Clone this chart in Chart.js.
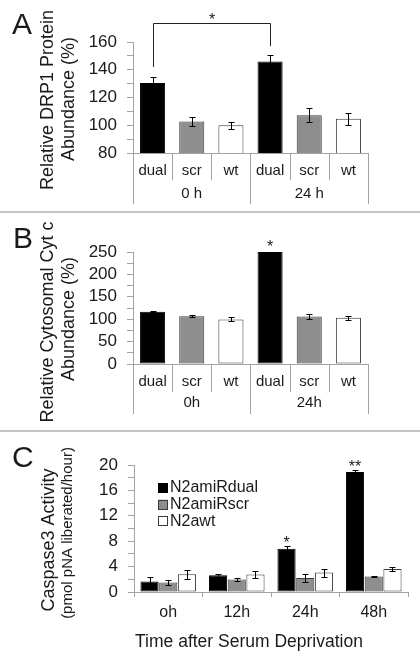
<!DOCTYPE html>
<html><head><meta charset="utf-8">
<script src="https://cdn.jsdelivr.net/npm/chart.js@4"></script>
<style>
html,body{margin:0;padding:0;background:#fff;}
#wrap{position:relative;width:420px;height:661px;overflow:hidden;background:#fff;}
canvas{position:absolute;left:0;top:0;}
.sep{position:absolute;left:0;width:420px;height:2px;background:#c4c4c4;}
</style></head><body>
<div id="wrap">
<canvas id="cA" width="420" height="661"></canvas>
<canvas id="cB" width="420" height="661"></canvas>
<canvas id="cC" width="420" height="661"></canvas>
<div class="sep" style="top:211px"></div>
<div class="sep" style="top:430px"></div>
</div>
<script>
// ---------------- DATA ----------------
// Panel A: Relative DRP1 protein abundance (%)
const catsA = ['dual','scr','wt','dual','scr','wt'];
const groupsA = ['0 h','24 h'];
const valsA = [130.5, 102.7, 100.0, 146.0, 107.2, 104.6];
const errsA = [4.3, 3.5, 2.5, 4.3, 5.2, 4.2];
const yTicksA = [80, 100, 120, 140, 160];
const bracketA = {from: 0, to: 3, top: 174, leftEnd: 142, rightEnd: 157, mark: '*'};

// Panel B: Relative cytosomal Cyt c abundance (%)
const catsB = ['dual','scr','wt','dual','scr','wt'];
const groupsB = ['0h','24h'];
const valsB = [116.5, 106.8, 99.5, 250.0, 106.0, 103.5];
const errsB = [1.0, 3.0, 4.5, 0, 6.0, 4.5];
const yTicksB = [0, 50, 100, 150, 200, 250];
const marksB = ['', '', '', '*', '', ''];

// Panel C: Caspase3 activity (pmol pNA liberated/hour)
const catsC = ['oh','12h','24h','48h'];
const seriesC = ['N2amiRdual','N2amiRscr','N2awt'];
const dualC = [1.65, 2.65, 6.8, 18.9];
const dualErrC = [0.68, 0.25, 0.47, 0.3];
const scrC = [1.5, 1.95, 2.2, 2.43];
const scrErrC = [0.42, 0.26, 0.58, 0.1];
const wtC = [2.78, 2.75, 3.06, 3.63];
const wtErrC = [0.74, 0.58, 0.63, 0.37];
const yTicksC = [0, 4, 8, 12, 16, 20];
const marksC = ['', '', '*', '**'];

// ---------------- STYLE ----------------
const FONT = "'Liberation Sans', Arial, Helvetica, sans-serif";
Chart.defaults.font.family = FONT;
Chart.defaults.color = '#1a1a1a';
const TXT = '#1a1a1a';
const AXIS = '#a3a3a3';
const FILL = {dual: '#000000', scr: '#8e8e8e', wt: '#ffffff'};
const EDGE = {dual: '#000000', scr: '#3a3a3a', wt: '#3a3a3a'};
const W = 420, H = 661;
const Y_W = 60, X_H = 30;

function layoutFor(area) {
  return {padding: {left: area.left - Y_W, right: W - area.right, top: area.top, bottom: H - area.bottom - X_H}};
}
function yScale(tickList, minor) {
  return {
    min: tickList[0], max: tickList[tickList.length - 1],
    afterFit: s => { s.width = Y_W; },
    border: {display: true, color: AXIS, width: 1},
    grid: {display: true, drawOnChartArea: false, drawTicks: true, tickLength: 6, color: AXIS},
    ticks: {stepSize: minor, autoSkip: false, padding: 10, color: TXT, font: {size: 17},
      callback: v => tickList.includes(v) ? String(v) : ''}
  };
}
function errPlugin(errSets, cap) {
  return {id: 'errbars', afterDatasetsDraw(chart) {
    const ctx = chart.ctx, y = chart.scales.y;
    chart.data.datasets.forEach((ds, di) => {
      const meta = chart.getDatasetMeta(di);
      meta.data.forEach((bar, i) => {
        const v = ds.data[i], e = errSets[di][i];
        if (!e) return;
        const x = Math.round(bar.x) + 0.5;
        const yt = Math.round(y.getPixelForValue(v + e)) + 0.5;
        const yb = Math.round(y.getPixelForValue(v - e)) + 0.5;
        ctx.save();
        ctx.strokeStyle = '#000'; ctx.lineWidth = 1;
        ctx.beginPath();
        ctx.moveTo(x, yt); ctx.lineTo(x, yb);
        ctx.moveTo(x - cap, yt); ctx.lineTo(x + cap, yt);
        ctx.moveTo(x - cap, yb); ctx.lineTo(x + cap, yb);
        ctx.stroke();
        ctx.restore();
      });
    });
  }};
}
function multiLevelPlugin(cats, groups, inner, outer, labelDy) {
  return {id: 'multilevel', afterDraw(chart) {
    const ctx = chart.ctx, x = chart.scales.x, a = chart.chartArea;
    const n = cats.length, per = n / groups.length;
    const w = x.getPixelForValue(1) - x.getPixelForValue(0);
    const x0 = x.getPixelForValue(0) - w / 2;
    ctx.save();
    ctx.strokeStyle = AXIS; ctx.lineWidth = 1;
    ctx.beginPath();
    for (let i = 0; i <= n; i++) {
      const px = Math.round(x0 + i * w) + 0.5;
      const len = (i % per === 0) ? outer : inner;
      ctx.moveTo(px, a.bottom); ctx.lineTo(px, a.bottom + len);
    }
    ctx.stroke();
    ctx.fillStyle = TXT; ctx.font = '15px ' + FONT;
    ctx.textAlign = 'center'; ctx.textBaseline = 'middle';
    groups.forEach((g, gi) => {
      const cx = x0 + (gi * per + per / 2) * w;
      ctx.fillText(g, cx, a.bottom + labelDy);
    });
    ctx.restore();
  }};
}
function textPlugin(items) {
  return {id: 'texts', afterDraw(chart) {
    const ctx = chart.ctx;
    items.forEach(t => {
      ctx.save();
      ctx.fillStyle = TXT;
      ctx.font = t.size + 'px ' + FONT;
      ctx.translate(t.x, t.y);
      if (t.rot) ctx.rotate(-Math.PI / 2);
      ctx.textAlign = t.align || 'center';
      ctx.textBaseline = t.base || 'middle';
      ctx.fillText(t.text, 0, 0);
      ctx.restore();
    });
  }};
}
function marksPlugin(marks, errSets, dsIndex, gap) {
  return {id: 'marks', afterDraw(chart) {
    const ctx = chart.ctx, y = chart.scales.y;
    const meta = chart.getDatasetMeta(dsIndex);
    const ds = chart.data.datasets[dsIndex];
    ctx.save();
    ctx.fillStyle = TXT; ctx.font = '16px ' + FONT;
    ctx.textAlign = 'center'; ctx.textBaseline = 'alphabetic';
    marks.forEach((m, i) => {
      if (!m) return;
      const top = y.getPixelForValue(ds.data[i] + (errSets[dsIndex][i] || 0));
      ctx.fillText(m, meta.data[i].x, top - gap + 9);
    });
    ctx.restore();
  }};
}
function bracketPlugin(b) {
  return {id: 'bracket', afterDraw(chart) {
    const ctx = chart.ctx, y = chart.scales.y;
    const meta = chart.getDatasetMeta(0);
    const x1 = Math.round(meta.data[b.from].x) + 0.5, x2 = Math.round(meta.data[b.to].x) + 0.5;
    const yt = Math.round(y.getPixelForValue(b.top)) + 0.5;
    ctx.save();
    ctx.strokeStyle = '#222'; ctx.lineWidth = 1;
    ctx.beginPath();
    ctx.moveTo(x1, y.getPixelForValue(b.leftEnd)); ctx.lineTo(x1, yt);
    ctx.lineTo(x2, yt); ctx.lineTo(x2, y.getPixelForValue(b.rightEnd));
    ctx.stroke();
    ctx.fillStyle = TXT; ctx.font = '16px ' + FONT;
    ctx.textAlign = 'center'; ctx.textBaseline = 'alphabetic';
    ctx.fillText(b.mark, (x1 + x2) / 2, yt - 8 + 9);
    ctx.restore();
  }};
}
function legendPlugin(boxX, firstY, step, box) {
  return {id: 'legendC', afterDraw(chart) {
    const ctx = chart.ctx;
    ctx.save();
    ctx.font = '16px ' + FONT; ctx.textAlign = 'left'; ctx.textBaseline = 'middle';
    chart.data.datasets.forEach((ds, i) => {
      const cy = firstY + i * step;
      ctx.fillStyle = ds.backgroundColor;
      ctx.fillRect(boxX, cy - box / 2, box, box);
      ctx.strokeStyle = ds.borderColor; ctx.lineWidth = 1;
      ctx.strokeRect(Math.round(boxX) + 0.5, Math.round(cy - box / 2) + 0.5, box - 1, box - 1);
      ctx.fillStyle = TXT;
      ctx.fillText(ds.label, boxX + box + 2, cy);
    });
    ctx.restore();
  }};
}
function baseOptions(area, xScale, yS) {
  return {
    responsive: false, animation: false, devicePixelRatio: 1,
    layout: layoutFor(area),
    plugins: {legend: {display: false}, tooltip: {enabled: false}, title: {display: false}},
    scales: {x: xScale, y: yS}
  };
}
function twoLevelX(fontSize, pad) {
  return {
    afterFit: s => { s.height = X_H; },
    grid: {display: false, drawTicks: false, tickLength: 0},
    border: {display: true, color: AXIS, width: 1},
    ticks: {padding: pad, color: TXT, font: {size: fontSize}, autoSkip: false, maxRotation: 0}
  };
}

// ---------------- PANEL A ----------------
const areaA = {left: 133, right: 368, top: 42, bottom: 153};
new Chart(document.getElementById('cA'), {
  type: 'bar',
  data: {labels: catsA, datasets: [{data: valsA,
    backgroundColor: catsA.map(c => FILL[c]), borderColor: catsA.map(c => EDGE[c]),
    borderWidth: 1, borderSkipped: false, barPercentage: 0.64, categoryPercentage: 1}]},
  options: baseOptions(areaA, twoLevelX(15, 9), yScale(yTicksA, 10)),
  plugins: [errPlugin([errsA], 3), multiLevelPlugin(catsA, groupsA, 27, 51, 41), bracketPlugin(bracketA),
    textPlugin([
      {text: 'A', x: 12, y: 34, size: 30, align: 'left', base: 'alphabetic'},
      {text: 'Relative DRP1 Protein', x: 48, y: 100, size: 18, rot: true},
      {text: 'Abundance (%)', x: 69, y: 99, size: 18, rot: true}
    ])]
});

// ---------------- PANEL B ----------------
const areaB = {left: 133, right: 368, top: 252, bottom: 364};
new Chart(document.getElementById('cB'), {
  type: 'bar',
  data: {labels: catsB, datasets: [{data: valsB,
    backgroundColor: catsB.map(c => FILL[c]), borderColor: catsB.map(c => EDGE[c]),
    borderWidth: 1, borderSkipped: false, barPercentage: 0.64, categoryPercentage: 1}]},
  options: baseOptions(areaB, twoLevelX(15, 9), yScale(yTicksB, 25)),
  plugins: [errPlugin([errsB], 3), multiLevelPlugin(catsB, groupsB, 28, 50, 39), marksPlugin(marksB, [errsB], 0, 9),
    textPlugin([
      {text: 'B', x: 13, y: 248, size: 30, align: 'left', base: 'alphabetic'},
      {text: 'Relative Cytosomal Cyt c', x: 48, y: 322, size: 18, rot: true},
      {text: 'Abundance (%)', x: 69, y: 319, size: 18, rot: true}
    ])]
});

// ---------------- PANEL C ----------------
const areaC = {left: 134, right: 408, top: 465, bottom: 592};
const xC = {
  afterFit: s => { s.height = X_H; },
  grid: {display: true, offset: true, drawOnChartArea: false, drawTicks: true, tickLength: 5, color: AXIS},
  border: {display: true, color: AXIS, width: 1},
  ticks: {padding: 6, color: TXT, font: {size: 16}, autoSkip: false, maxRotation: 0}
};
new Chart(document.getElementById('cC'), {
  type: 'bar',
  data: {labels: catsC, datasets: [
    {label: seriesC[0], data: dualC, backgroundColor: FILL.dual, borderColor: EDGE.dual, borderWidth: 1, borderSkipped: false, barPercentage: 0.97, categoryPercentage: 0.82},
    {label: seriesC[1], data: scrC, backgroundColor: FILL.scr, borderColor: EDGE.scr, borderWidth: 1, borderSkipped: false, barPercentage: 0.97, categoryPercentage: 0.82},
    {label: seriesC[2], data: wtC, backgroundColor: FILL.wt, borderColor: EDGE.wt, borderWidth: 1, borderSkipped: false, barPercentage: 0.97, categoryPercentage: 0.82}
  ]},
  options: baseOptions(areaC, xC, yScale(yTicksC, 2)),
  plugins: [errPlugin([dualErrC, scrErrC, wtErrC], 3), marksPlugin(marksC, [dualErrC, scrErrC, wtErrC], 0, 7),
    legendPlugin(158, 488, 16.7, 10),
    textPlugin([
      {text: 'C', x: 12, y: 467, size: 30, align: 'left', base: 'alphabetic'},
      {text: 'Caspase3 Activity', x: 49, y: 540, size: 18, rot: true},
      {text: '(pmol pNA liberated/hour)', x: 68, y: 533, size: 15, rot: true},
      {text: 'Time after Serum Deprivation', x: 249, y: 642, size: 17.5}
    ])]
});
</script>
</body></html>
